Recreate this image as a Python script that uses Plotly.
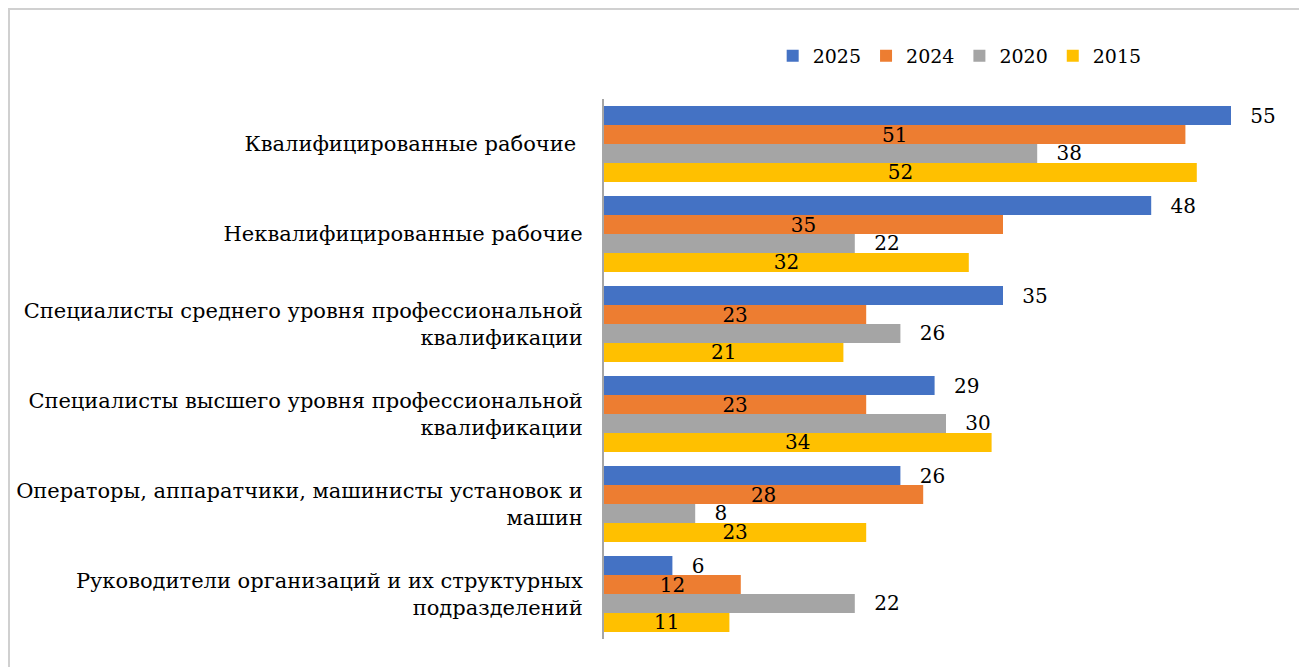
import plotly.graph_objects as go

categories = [
    "Квалифицированные рабочие\u00a0",
    "Неквалифицированные рабочие",
    "Специалисты среднего уровня профессиональной<br>квалификации",
    "Специалисты высшего уровня профессиональной<br>квалификации",
    "Операторы, аппаратчики, машинисты установок и<br>машин",
    "Руководители организаций и их структурных<br>подразделений",
]
v2025 = [55, 48, 35, 29, 26, 6]
v2024 = [51, 35, 23, 23, 28, 12]
v2020 = [38, 22, 26, 30, 8, 22]
v2015 = [52, 32, 21, 34, 23, 11]

series = [
    ("2025", v2025, "#4472c4", "outside"),
    ("2024", v2024, "#ed7d31", "inside"),
    ("2020", v2020, "#a5a5a5", "outside"),
    ("2015", v2015, "#ffc000", "inside"),
]

FONT = "DejaVu Serif"

fig = go.Figure()
for name, vals, color, pos in series:
    fig.add_trace(go.Bar(
        y=categories, x=vals, name=name, orientation="h",
        marker=dict(color=color, line=dict(width=0)),
        text=vals,
        texttemplate=("\u2002\u00a0%{x}" if pos == "outside" else "%{x}"),
        textposition=pos,
        insidetextanchor="middle",
        textangle=0,
        constraintext="none",
        cliponaxis=False,
        textfont=dict(family=FONT, size=20, color="#000000"),
    ))

# page body has an 8px margin, so the figure is laid out 8px smaller
fig.update_layout(
    width=1299, height=659,
    barmode="group", bargap=0.156, bargroupgap=0,
    plot_bgcolor="white", paper_bgcolor="white",
    margin=dict(l=596, r=19, t=91, b=28, autoexpand=False),
    font=dict(family=FONT, size=20, color="#000000"),
    showlegend=True,
    legend=dict(orientation="h", x=0.52, xanchor="center", y=1.08, yanchor="middle",
                font=dict(family=FONT, size=19, color="#000000"),
                itemwidth=30, traceorder="normal"),
    xaxis=dict(range=[0, 60], showgrid=False, showticklabels=False, zeroline=False,
               showline=False, ticks=""),
    yaxis=dict(autorange="reversed", showgrid=False, showline=True, linecolor="#a6a6a6",
               linewidth=2, ticks="", ticklabelstandoff=15,
               tickfont=dict(family=FONT, size=21, color="#000000")),
    shapes=[dict(type="rect", xref="paper", yref="paper",
                 x0=(1 - 596) / 684, x1=(1310 - 596) / 684,
                 y0=(631 - 670) / 540, y1=(631 - 1) / 540,
                 line=dict(color="#d0d0d0", width=2), fillcolor="rgba(0,0,0,0)", layer="below")],
)

fig.write_html("out.html")
